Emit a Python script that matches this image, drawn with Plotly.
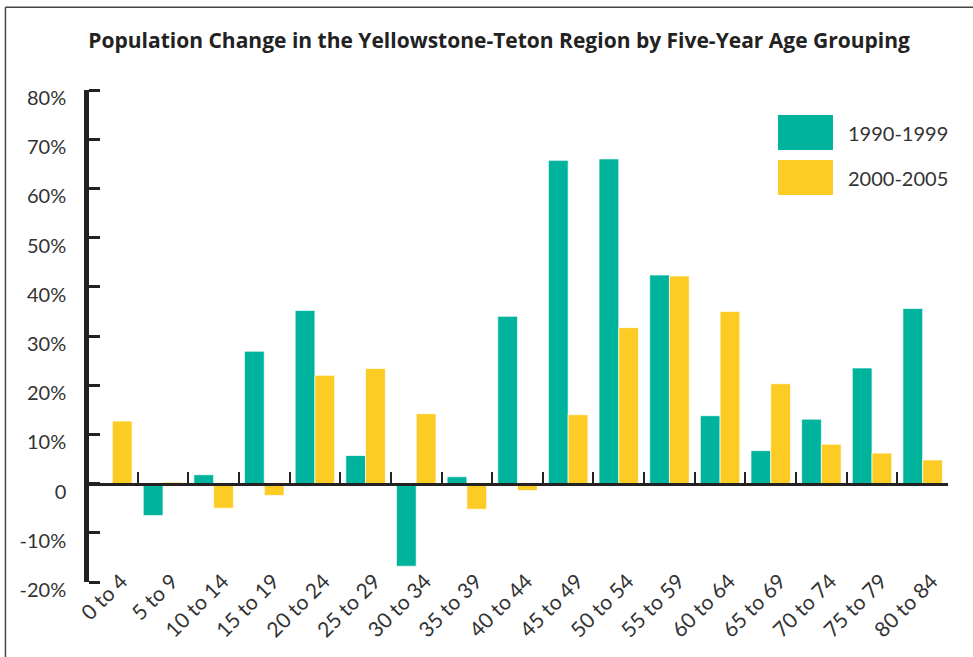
import plotly.graph_objects as go

# ---- data ----
age_groups = ["0 to 4", "5 to 9", "10 to 14", "15 to 19", "20 to 24", "25 to 29",
              "30 to 34", "35 to 39", "40 to 44", "45 to 49", "50 to 54", "55 to 59",
              "60 to 64", "65 to 69", "70 to 74", "75 to 79", "80 to 84"]
series_names = ["1990-1999", "2000-2005"]
change_1990s = [-0.5, -6.5, 1.8, 26.9, 35.2, 5.7, -16.8, 1.4, 34.0, 65.7, 66.0,
                42.4, 13.8, 6.7, 13.1, 23.5, 35.6]
change_2000s = [12.7, 0.3, -5.0, -2.4, 22.0, 23.4, 14.2, -5.2, -1.4, 14.0, 31.7,
                42.2, 35.0, 20.3, 8.0, 6.2, 4.8]
y_tick_values = [-20, -10, 0, 10, 20, 30, 40, 50, 60, 70, 80]
y_tick_labels = ["-20%", "-10%", "0", "10%", "20%", "30%", "40%", "50%", "60%", "70%", "80%"]
title_text = "Population Change in the Yellowstone-Teton Region by Five-Year Age Grouping"

# ---- style ----
GREEN = "#00B39C"
YELLOW = "#FCCB24"
INK = "#222222"
TEXT = "#333333"
FONT = "Lato, 'Open Sans', sans-serif"
TITLE_FONT = "'Open Sans', Lato, sans-serif"

fig = go.Figure()
for name, vals, col in [(series_names[0], change_1990s, GREEN),
                        (series_names[1], change_2000s, YELLOW)]:
    fig.add_trace(go.Bar(x=age_groups, y=vals, name=name,
                         marker=dict(color=col, line=dict(color="rgba(255,255,255,0.7)", width=1)),
                         showlegend=False))

# helper trace for the axes that carry the tick marks
fig.add_trace(go.Scatter(x=age_groups, y=change_1990s, xaxis="x2", yaxis="y2",
                         mode="none", showlegend=False, hoverinfo="skip"))

cat_range = [-0.5, len(age_groups) - 0.5]
y_range = [-20, 80]

fig.update_layout(
    width=973, height=657,
    margin=dict(l=87, r=25, t=90, b=75, autoexpand=False),
    paper_bgcolor="white", plot_bgcolor="white",
    font=dict(family=FONT, color=TEXT),
    barmode="group", bargap=0.22, bargroupgap=0,
    title=dict(text="<b>" + title_text + "</b>", x=0.513, xanchor="center",
               y=1 - 40.5 / 657, yanchor="middle",
               font=dict(family=TITLE_FONT, size=21, color=INK)),
    xaxis=dict(type="category", range=cat_range, showline=False, ticks="",
               showgrid=False, zeroline=False, tickangle=-45, automargin=False,
               tickfont=dict(size=21, color=TEXT),
               ticklabelshift=9, ticklabelstandoff=-18),
    xaxis2=dict(type="category", range=cat_range, overlaying="x", anchor="free",
                position=0.2, showticklabels=False, showgrid=False, zeroline=False,
                showline=True, linecolor=INK, linewidth=2.5, automargin=False,
                ticks="inside", tickson="boundaries", ticklen=11, tickwidth=2,
                tickcolor=INK),
    yaxis=dict(range=y_range, tickvals=y_tick_values, ticktext=y_tick_labels,
               showgrid=False, zeroline=False, showline=True, linecolor=INK,
               linewidth=2.5, ticks="",
               tickfont=dict(size=20, color=TEXT), automargin=False,
               ticklabelshift=8, ticklabelstandoff=14),
    # right-sided axis placed on the left edge: its outside ticks point into the plot
    yaxis2=dict(range=y_range, tickvals=y_tick_values, overlaying="y", side="right",
                anchor="free", position=0, showticklabels=False, showgrid=False,
                zeroline=False, showline=True, linecolor=INK, linewidth=2.5,
                ticks="outside", ticklen=11, tickwidth=2.5, tickcolor=INK,
                automargin=False),
)

# custom legend with large swatches
legend_rows = [(series_names[0], GREEN, 0.949, 0.878),
               (series_names[1], YELLOW, 0.8577, 0.7866)]
for name, col, y1, y0 in legend_rows:
    fig.add_shape(type="rect", xref="paper", yref="paper", x0=0.8026, x1=0.8664,
                  y0=y0, y1=y1, fillcolor=col, line=dict(width=0))
    fig.add_annotation(text=name, xref="paper", yref="paper", x=0.881,
                       y=(y0 + y1) / 2, xanchor="left", yanchor="middle",
                       showarrow=False, font=dict(family=FONT, size=20, color=TEXT))

# frame lines (left and top)
fig.add_shape(type="line", xref="paper", yref="paper", x0=-0.0947, x1=-0.0947,
              y0=-0.2, y1=1.168, line=dict(color="#444", width=1.5))
fig.add_shape(type="line", xref="paper", yref="paper", x0=-0.0947, x1=1.05,
              y0=1.168, y1=1.168, line=dict(color="#444", width=1.5))

fig.write_html("out.html", config={"displayModeBar": False},
               post_script="document.body.style.margin='0';")
